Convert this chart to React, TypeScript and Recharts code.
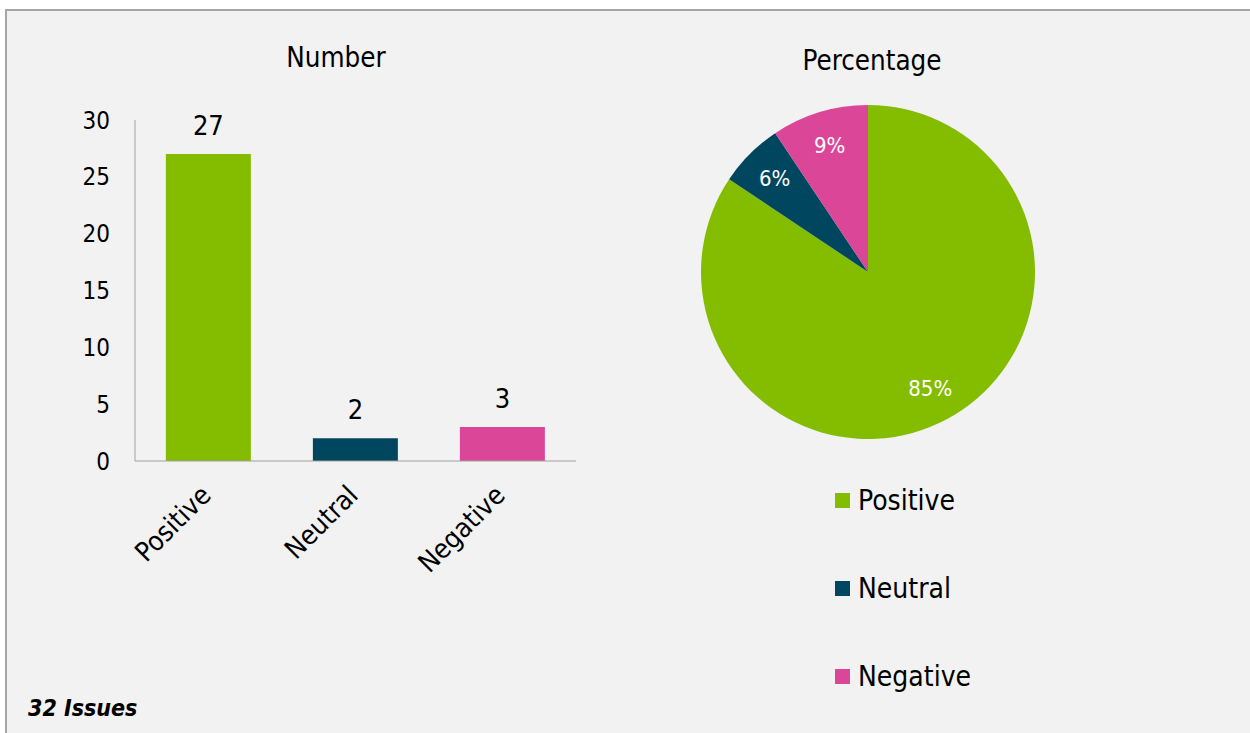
import { Bar, BarChart, Cell, LabelList, Pie, PieChart, XAxis, YAxis } from 'recharts'

const categorias = ['Positive', 'Neutral', 'Negative']
const quantidades = [27, 2, 3]
const percentuais = ['85%', '6%', '9%']
const cores = ['#84bd00', '#00465f', '#dc4698']
const ticksY = [0, 5, 10, 15, 20, 25, 30]

const fonte = '"DejaVu Sans Condensed", "DejaVu Sans", sans-serif'

const dados = categorias.map((nome, i) => ({
  nome,
  total: quantidades[i],
  rotulo: percentuais[i],
}))

const RAD = Math.PI / 180

function TickX({ x, y, payload }: any) {
  return (
    <text
      x={x + 4}
      y={y + 28}
      transform={`rotate(-45, ${x + 4}, ${y + 28})`}
      textAnchor="end"
      fontSize={27}
      fontFamily={fonte}
      fill="#000"
    >
      {payload.value}
    </text>
  )
}

function RotuloPie({ cx, cy, midAngle, index }: any) {
  const r = 132
  const x = cx + r * Math.cos(-midAngle * RAD)
  const y = cy + r * Math.sin(-midAngle * RAD)
  return (
    <text
      x={x}
      y={y}
      textAnchor="middle"
      dominantBaseline="central"
      fontSize={22}
      fontFamily={fonte}
      fill="#fff"
    >
      {percentuais[index]}
    </text>
  )
}

function Legenda() {
  return (
    <div style={{ fontFamily: fonte, fontSize: 28, color: '#000' }}>
      {categorias.map((nome, i) => (
        <div
          key={nome}
          style={{ display: 'flex', alignItems: 'center', height: 30, marginBottom: i < 2 ? 58 : 0 }}
        >
          <span style={{ width: 15, height: 15, background: cores[i], marginRight: 8 }} />
          <span>{nome}</span>
        </div>
      ))}
    </div>
  )
}

export default function App() {
  return (
    <div
      style={{
        position: 'absolute',
        left: 0,
        top: 0,
        width: 1250,
        height: 733,
        background: '#fff',
        overflow: 'hidden',
      }}
    >
      <div
        style={{
          position: 'absolute',
          left: 5,
          top: 9,
          width: 1260,
          height: 740,
          background: '#f2f2f2',
          borderLeft: '2px solid #a6a6a6',
          borderTop: '2px solid #a6a6a6',
        }}
      />

      <div
        style={{
          position: 'absolute',
          left: 236,
          width: 200,
          top: 41,
          textAlign: 'center',
          fontFamily: fonte,
          fontSize: 27.5,
          lineHeight: '32px',
        }}
      >
        Number
      </div>
      <div
        style={{
          position: 'absolute',
          left: 772,
          width: 200,
          top: 44,
          textAlign: 'center',
          fontFamily: fonte,
          fontSize: 27.5,
          lineHeight: '32px',
        }}
      >
        Percentage
      </div>

      <div style={{ position: 'absolute', left: 0, top: 0 }}>
        <BarChart
          width={620}
          height={600}
          data={dados}
          margin={{ top: 120, right: 44, left: 0, bottom: 0 }}
          barCategoryGap="21%"
        >
          <YAxis
            width={135}
            domain={[0, 30]}
            ticks={ticksY}
            tickLine={false}
            tickMargin={19}
            stroke="#a0a0a0"
            tick={{ fontSize: 24, fill: '#000', fontFamily: fonte }}
          />
          <XAxis
            dataKey="nome"
            height={139}
            tickLine={false}
            stroke="#a0a0a0"
            interval={0}
            tick={<TickX />}
          />
          <Bar dataKey="total" isAnimationActive={false}>
            {dados.map((d, i) => (
              <Cell key={d.nome} fill={cores[i]} />
            ))}
            <LabelList
              dataKey="total"
              position="top"
              offset={19}
              fontSize={27}
              fontFamily={fonte}
              fill="#000"
            />
          </Bar>
        </BarChart>
      </div>

      <div style={{ position: 'absolute', left: 640, top: 0 }}>
        <PieChart width={600} height={733} margin={{ top: 0, right: 0, bottom: 0, left: 0 }}>
          <Pie
            data={dados}
            dataKey="total"
            nameKey="nome"
            cx={228}
            cy={272}
            outerRadius={167}
            startAngle={90}
            endAngle={-270}
            stroke="none"
            label={<RotuloPie />}
            labelLine={false}
            isAnimationActive={false}
          >
            {dados.map((d, i) => (
              <Cell key={d.nome} fill={cores[i]} />
            ))}
          </Pie>
        </PieChart>
      </div>

      <div style={{ position: 'absolute', left: 835, top: 485 }}>
        <Legenda />
      </div>

      <div
        style={{
          position: 'absolute',
          left: 28,
          top: 695,
          fontFamily: fonte,
          fontSize: 23,
          fontWeight: 'bold',
          fontStyle: 'italic',
        }}
      >
        32 Issues
      </div>
    </div>
  )
}
